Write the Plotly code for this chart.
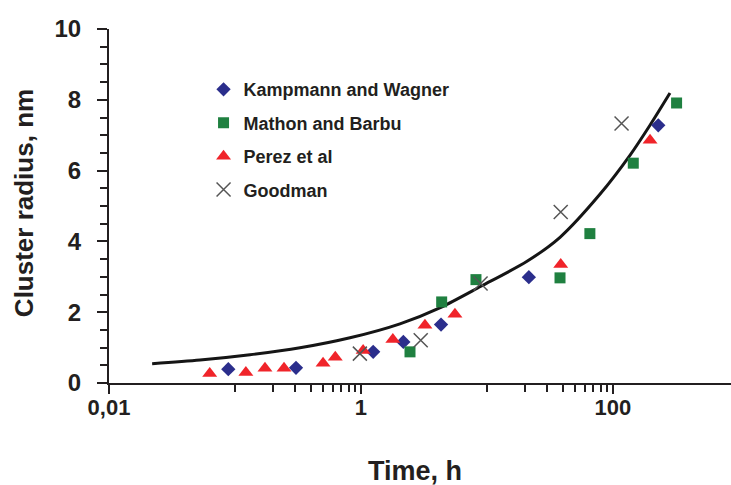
import plotly.graph_objects as go

# fitted curve
curve_t = [0.0220, 0.0528, 0.1315, 0.328, 0.818, 2.04, 4.31, 8.96, 20.8, 38.0, 78.8, 136.4, 196.7, 283.5]
curve_r = [0.545, 0.647, 0.797, 0.994, 1.277, 1.672, 2.138, 2.732, 3.438, 4.116, 5.33, 6.43, 7.28, 8.19]

kw_t = [0.0885, 0.305, 1.25, 2.17, 4.32, 21.5, 229]
kw_r = [0.39, 0.43, 0.88, 1.16, 1.65, 2.99, 7.28]

mb_t = [2.45, 4.37, 8.18, 38.0, 65.6, 145, 320]
mb_r = [0.88, 2.29, 2.92, 2.97, 4.22, 6.21, 7.91]

pz_t = [0.063, 0.122, 0.173, 0.245, 0.50, 0.625, 1.04, 1.79, 3.22, 5.57, 38.5, 197]
pz_r = [0.27, 0.30, 0.42, 0.42, 0.56, 0.73, 0.92, 1.23, 1.63, 1.94, 3.35, 6.86]

gm_t = [0.98, 2.98, 8.9, 38.5, 117]
gm_r = [0.83, 1.21, 2.81, 4.83, 7.33]

x_major = [0.01, 1, 100]
x_labels = ["0,01", "1", "100"]
x_minor = [0.1, 0.2, 0.3, 0.4, 0.5, 0.6, 0.7, 0.8, 0.9, 10, 20, 30, 40, 50, 60, 70, 80, 90]
y_major = [0, 2, 4, 6, 8, 10]

AX = "#231f20"

fig = go.Figure()
fig.add_trace(go.Scatter(x=curve_t, y=curve_r, mode="lines",
                         line=dict(color="#151515", width=3, shape="spline", smoothing=0.8),
                         showlegend=False, hoverinfo="skip"))
fig.add_trace(go.Scatter(x=kw_t, y=kw_r, mode="markers", name="Kampmann and Wagner", legendgroup="a",
                         marker=dict(symbol="diamond", size=11, color="#2b2e8c")))
fig.add_trace(go.Scatter(x=mb_t, y=mb_r, mode="markers", name="Mathon and Barbu", legendgroup="b",
                         marker=dict(symbol="square", size=11, color="#1f8040")))
fig.add_trace(go.Scatter(x=pz_t, y=pz_r, mode="markers", name="Perez et al", legendgroup="c",
                         marker=dict(symbol="triangle-up", size=13, color="#f0242a")))
fig.add_trace(go.Scatter(x=gm_t, y=gm_r, mode="markers", name="Goodman", legendgroup="d",
                         marker=dict(symbol="x-thin-open", size=14, color="#555555",
                                     line=dict(width=1.5, color="#555555"))))

fig.update_layout(
    width=731, height=485,
    margin=dict(l=109, r=0, t=29, b=102, autoexpand=False),
    paper_bgcolor="white", plot_bgcolor="white",
    font=dict(family="Liberation Sans, Arial, sans-serif", color=AX, weight="bold"),
    legend=dict(x=0.152, y=0.881, xanchor="left", yanchor="top",
                font=dict(size=18, color=AX), tracegroupgap=7, bgcolor="rgba(0,0,0,0)"),
    annotations=[
        dict(text="Cluster radius, nm", xref="paper", yref="paper", x=-0.1367, y=0.508,
             xanchor="center", yanchor="middle", textangle=-90, showarrow=False,
             font=dict(size=26, color=AX, weight="bold")),
        dict(text="Time, h", xref="paper", yref="paper", x=0.492, y=-0.249,
             xanchor="center", yanchor="middle", showarrow=False,
             font=dict(size=27, color=AX, weight="bold")),
    ],
)
fig.update_xaxes(
    type="log", range=[-2, 2.937], automargin=False,
    tickvals=x_major, ticktext=x_labels,
    ticks="outside", ticklen=9, tickwidth=2, tickcolor=AX,
    showline=True, linewidth=2, linecolor=AX, showgrid=False, zeroline=False,
    tickfont=dict(size=22, color=AX), ticklabelstandoff=-5,
    minor=dict(tickvals=x_minor, ticks="outside", ticklen=7, tickwidth=2, tickcolor=AX, showgrid=False),
)
fig.update_yaxes(
    range=[0, 10], tickvals=y_major, automargin=False,
    ticks="outside", ticklen=10, tickwidth=2, tickcolor=AX,
    showline=True, linewidth=2, linecolor=AX, showgrid=False, zeroline=False,
    tickfont=dict(size=24, color=AX), ticklabelstandoff=11,
    minor=dict(dtick=0.5, ticks="outside", ticklen=7, tickwidth=2, tickcolor=AX, showgrid=False),
)

fig.write_html("out.html", config={"displayModeBar": False},
               post_script="document.body.style.margin='0';document.body.style.overflow='hidden';")
